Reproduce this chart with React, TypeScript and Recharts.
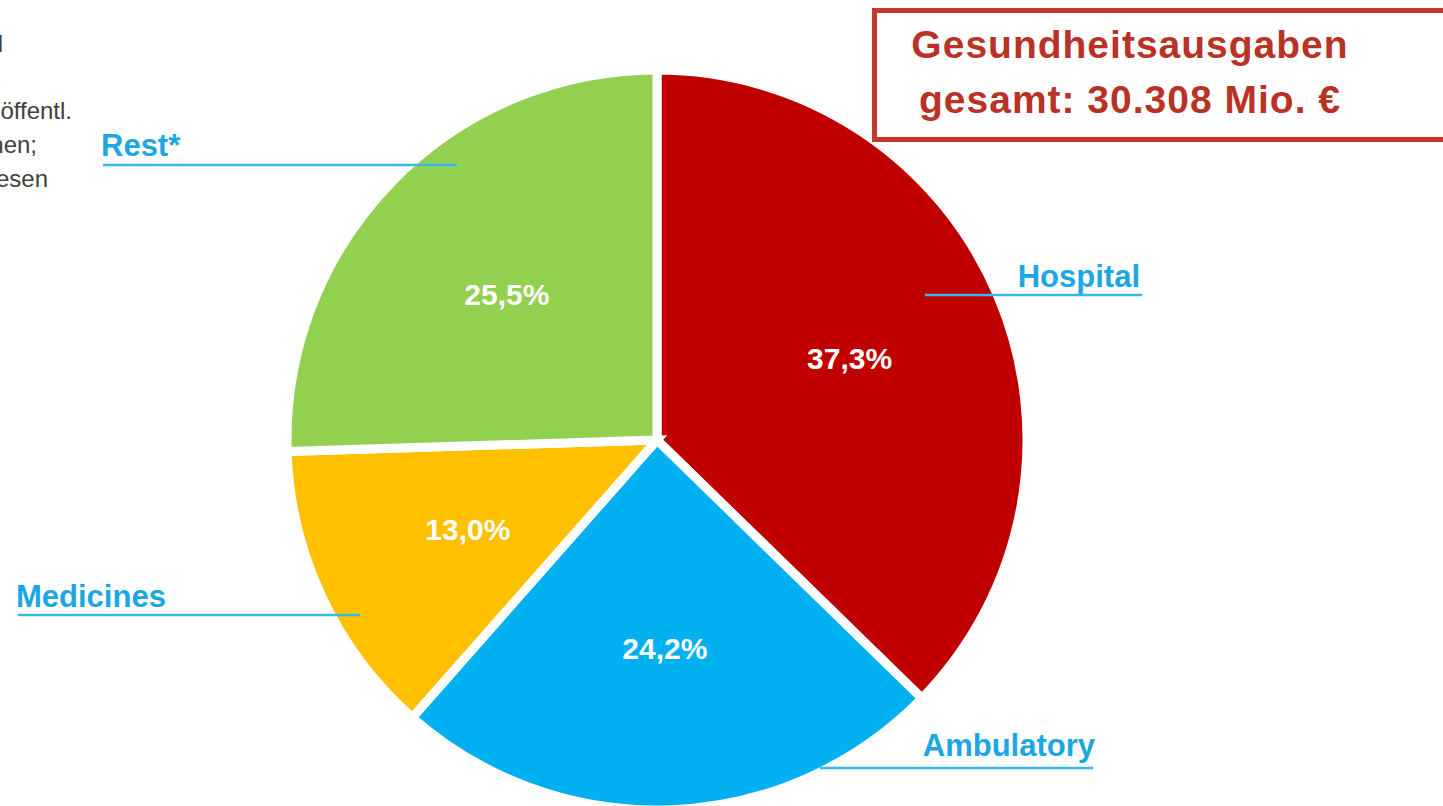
import { Cell, Pie, PieChart } from "recharts"

// shares of total health expenditure, in percent
const categories = ["Hospital", "Ambulatory", "Medicines", "Rest*"]
const shares = [37.3, 24.2, 13.0, 25.5]
const shareLabels = ["37,3%", "24,2%", "13,0%", "25,5%"]

// footnote fragment that is cut off at the left edge of the slide
const noteLines = ["und", "z.B.", "öffentl.", "Investitionen;", "Gesundheitswesen"]
const titleLines = ["Gesundheitsausgaben", "gesamt: 30.308 Mio. €"]

const FONT = "'Liberation Sans', Arial, Helvetica, sans-serif"
const sliceColors = ["#c00000", "#00b0f0", "#ffc000", "#92d050"]
const calloutText = "#1ba7e3"
const calloutLine = "#35b9ea"

// where each outside name sits, with its underline
const callouts: Record<
  string,
  { x: number; anchor: "start" | "end"; y: number; x1: number; x2: number; ly: number }
> = {
  Hospital: { x: 1140, anchor: "end", y: 287, x1: 925, x2: 1142, ly: 295 },
  Ambulatory: { x: 1095, anchor: "end", y: 756, x1: 820, x2: 1093, ly: 768 },
  Medicines: { x: 16, anchor: "start", y: 607, x1: 18, x2: 360, ly: 615 },
  "Rest*": { x: 101, anchor: "start", y: 156, x1: 103, x2: 457, ly: 165 },
}
const noteEnds = [3, 2, 72, 37, 48]

const RAD = Math.PI / 180

const data = categories.map((name, i) => ({
  name,
  value: shares[i],
  text: shareLabels[i],
}))

function renderLabel(props: any) {
  const { cx, cy, midAngle, outerRadius, index } = props
  const r = outerRadius * 0.565
  const x = cx + r * Math.cos(-midAngle * RAD)
  const y = cy + r * Math.sin(-midAngle * RAD)
  const name = categories[index]
  const c = callouts[name]
  return (
    <g key={name}>
      <text
        x={x}
        y={y}
        textAnchor="middle"
        dominantBaseline="central"
        fill="#fff"
        fontFamily={FONT}
        fontWeight="bold"
        fontSize={30}
      >
        {shareLabels[index]}
      </text>
      <line x1={c.x1} x2={c.x2} y1={c.ly} y2={c.ly} stroke={calloutLine} strokeWidth={2.5} />
      <text
        x={c.x}
        y={c.y}
        textAnchor={c.anchor}
        fill={calloutText}
        fontFamily={FONT}
        fontWeight="bold"
        fontSize={31}
      >
        {name}
      </text>
    </g>
  )
}

export default function App() {
  return (
    <div
      style={{
        position: "absolute",
        left: 0,
        top: 0,
        width: 1443,
        height: 806,
        overflow: "hidden",
        background: "#fff",
      }}
    >
      <PieChart width={1443} height={806} margin={{ top: 0, right: 0, bottom: 0, left: 0 }}>
        <Pie
          data={data}
          dataKey="value"
          nameKey="name"
          cx={657}
          cy={440}
          outerRadius={370}
          startAngle={90}
          endAngle={-270}
          stroke="#fff"
          strokeWidth={9}
          label={renderLabel}
          labelLine={false}
          isAnimationActive={false}
        >
          {data.map((d, i) => (
            <Cell key={d.name} fill={sliceColors[i]} />
          ))}
        </Pie>
      </PieChart>

      <svg
        width={1443}
        height={806}
        style={{ position: "absolute", left: 0, top: 0, pointerEvents: "none" }}
      >
        {noteLines.map((t, i) => (
          <text
            key={t}
            x={noteEnds[i]}
            y={52 + i * 33.7}
            textAnchor="end"
            fill="#404040"
            fontFamily={FONT}
            fontSize={24}
          >
            {t}
          </text>
        ))}
        <rect
          x={874.5}
          y={10.5}
          width={620}
          height={129}
          fill="#fff"
          stroke="#c0392b"
          strokeWidth={5}
        />
        {titleLines.map((t, i) => (
          <text
            key={t}
            x={1130}
            y={58 + i * 55}
            textAnchor="middle"
            fill="#b93225"
            fontFamily={FONT}
            fontWeight="bold"
            fontSize={39}
            letterSpacing={1}
          >
            {t}
          </text>
        ))}
      </svg>
    </div>
  )
}
